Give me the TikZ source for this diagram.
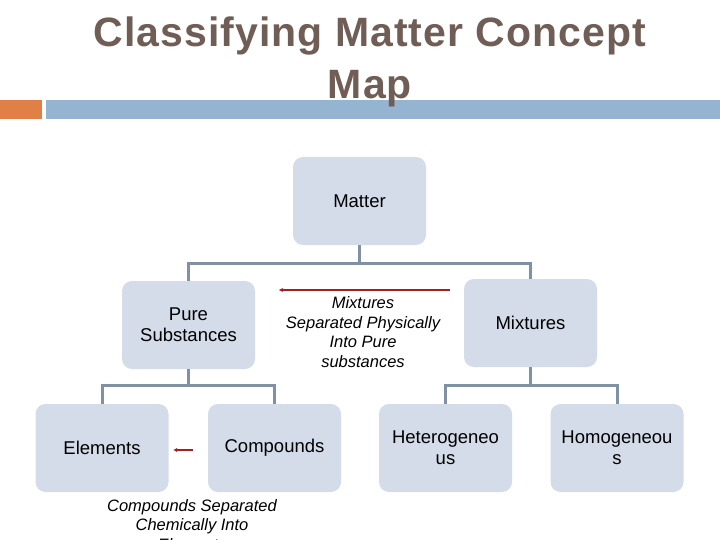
\documentclass[tikz,border=0pt]{standalone}
\usepackage{fontspec}
\setmainfont{Liberation Sans}
\usetikzlibrary{arrows.meta,calc}
\definecolor{titlec}{RGB}{112,94,86}
\definecolor{orangec}{RGB}{224,128,70}
\definecolor{barc}{RGB}{148,180,210}
\definecolor{boxc}{RGB}{211,220,232}
\definecolor{connc}{RGB}{127,145,163}
\definecolor{redc}{RGB}{163,31,36}
\begin{document}
\begin{tikzpicture}[x=1pt,y=-1pt,
  box/.style={fill=boxc, rounded corners=10pt, minimum width=133pt, minimum height=88pt,
    inner sep=0pt, align=center, font=\fontsize{18.5}{21}\selectfont},
  lab/.style={font=\fontsize{16.5}{19.5}\selectfont\itshape, align=center, inner sep=0pt},
  conn/.style={draw=connc, line width=3pt},
  redarr/.style={draw=redc, line width=2pt, -{Latex[length=4pt,width=4.5pt]}}]
\useasboundingbox (0,0) rectangle (720,540);
\clip (0,0) rectangle (720,540);
\fill[white] (0,0) rectangle (720,540);
% header bar
\fill[orangec] (0,100) rectangle (42,119);
\fill[barc] (46,100) rectangle (720,119);
% title
\node[text=titlec, align=center, inner sep=0pt,
  font=\fontsize{41}{51.5}\selectfont\bfseries\addfontfeatures{LetterSpace=2.5}] (title) at (370,62)
  {Classifying Matter Concept\\Map};
% boxes
\node[box] (matter) at (359.5,201) {Matter};
\node[box] (pure) at (188.5,325) {Pure\\Substances};
\node[box] (mix) at (530.5,323) {Mixtures};
\node[box] (elem) at (102,448) {Elements};
\node[box] (comp) at (274.5,448) {Compounds};
\node[box] (het) at (445.5,448) {Heterogeneo\\us};
\node[box] (hom) at (617,448) {Homogeneou\\s};
% connectors
\draw[conn] (matter.south) -- ++(0,18) coordinate (j1) -| (pure.north);
\draw[conn] (j1) -| (mix.north);
\draw[conn] (pure.south) -- ++(0,16) coordinate (j2) -| (elem.north);
\draw[conn] (j2) -| (comp.north);
\draw[conn] (mix.south) -- ++(0,18) coordinate (j3) -| (het.north);
\draw[conn] (j3) -| (hom.north);
% red arrows
\draw[redarr] ($(mix.west)+(-14,-33)$) -- ($(pure.east)+(23.5,-35)$);
\draw[redarr] ($(comp.west)+(-15,2)$) -- ($(elem.east)+(4.5,2)$);
% labels
\node[lab] (lab1) at (363,332) {Mixtures\\Separated Physically\\Into Pure\\substances};
\node[lab] (lab2) at (192,525) {Compounds Separated\\Chemically Into\\Elements};
\end{tikzpicture}
\end{document}
